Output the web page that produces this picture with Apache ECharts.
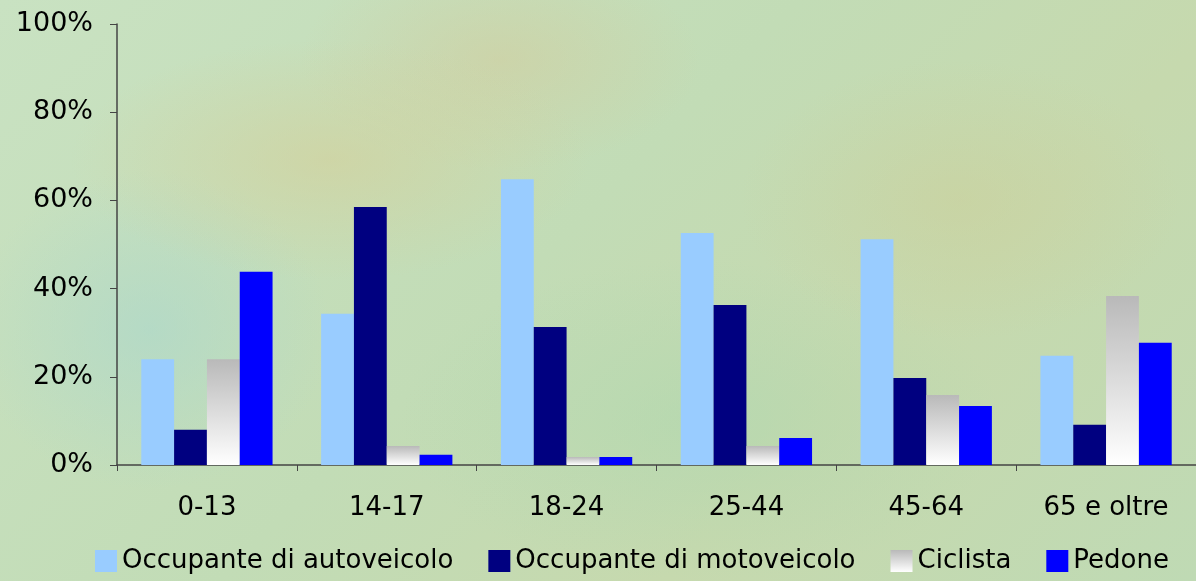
<!DOCTYPE html>
<html>
<head>
<meta charset="utf-8">
<script src="https://cdn.jsdelivr.net/npm/echarts@6/dist/echarts.min.js"></script>
<style>
  html, body { margin: 0; padding: 0; }
  body {
    width: 1196px; height: 581px; overflow: hidden;
    background:
      radial-gradient(ellipse 260px 120px at 330px 160px, rgba(214,206,150,0.55), rgba(214,206,150,0)),
      radial-gradient(ellipse 200px 110px at 500px 60px, rgba(214,200,150,0.45), rgba(214,200,150,0)),
      radial-gradient(ellipse 220px 140px at 960px 200px, rgba(205,205,150,0.45), rgba(205,205,150,0)),
      radial-gradient(ellipse 180px 160px at 150px 330px, rgba(170,215,205,0.6), rgba(170,215,205,0)),
      radial-gradient(ellipse 300px 160px at 700px 420px, rgba(170,215,175,0.5), rgba(170,215,175,0)),
      linear-gradient(135deg, #c9e2c2 0%, #c2dcb6 45%, #c6d9ae 70%, #bfdab4 100%);
  }
  #chart { width: 1196px; height: 581px; }
</style>
</head>
<body>
<div id="chart"></div>
<script>
var categories = ['0-13', '14-17', '18-24', '25-44', '45-64', '65 e oltre'];
var autoveicolo = [24.0, 34.3, 64.8, 52.6, 51.2, 24.8];
var motoveicolo = [8.0, 58.5, 31.3, 36.3, 19.7, 9.1];
var ciclista = [24.0, 4.3, 1.8, 4.3, 15.9, 38.3];
var pedone = [43.8, 2.3, 1.8, 6.1, 13.4, 27.7];
var yTicks = [0, 20, 40, 60, 80, 100];

var chart = echarts.init(document.getElementById('chart'), null, { renderer: 'canvas' });

var ciclistaFill = new echarts.graphic.LinearGradient(0, 0, 0, 1, [
  { offset: 0, color: '#b9b9b9' },
  { offset: 1, color: '#ffffff' }
]);

var font = '"DejaVu Sans", Verdana, sans-serif';

chart.setOption({
  backgroundColor: 'transparent',
  animation: false,
  textStyle: { fontFamily: font },
  grid: {
    left: 117,
    top: 24,
    width: 1086,
    height: 441
  },
  legend: {
    left: 90,
    bottom: 2,
    itemWidth: 22,
    itemHeight: 22,
    itemGap: 35,
    textStyle: { fontSize: 26, color: '#000', fontFamily: font },
    data: [
      { name: 'Occupante di autoveicolo', icon: 'rect' },
      { name: 'Occupante di motoveicolo', icon: 'rect' },
      { name: 'Ciclista', icon: 'rect' },
      { name: 'Pedone', icon: 'rect' }
    ]
  },
  xAxis: {
    type: 'category',
    data: categories,
    axisLine: { lineStyle: { color: '#444', width: 1.5 } },
    axisTick: { show: true, length: 6, lineStyle: { color: '#444' } },
    axisLabel: { color: '#000', fontSize: 26, margin: 30, fontFamily: font }
  },
  yAxis: {
    type: 'value',
    min: yTicks[0],
    max: yTicks[yTicks.length - 1],
    interval: 20,
    splitLine: { show: false },
    axisLine: { show: true, lineStyle: { color: '#444', width: 1.5 } },
    axisTick: { show: true, length: 7, lineStyle: { color: '#444' } },
    axisLabel: {
      color: '#000', fontSize: 27, margin: 24, fontFamily: font,
      formatter: function (v) { return v + '%'; }
    }
  },
  series: [
    {
      name: 'Occupante di autoveicolo', type: 'bar', data: autoveicolo,
      barGap: '0%', barCategoryGap: '27%',
      itemStyle: { color: '#99ccff' }
    },
    {
      name: 'Occupante di motoveicolo', type: 'bar', data: motoveicolo,
      itemStyle: { color: '#000080' }
    },
    {
      name: 'Ciclista', type: 'bar', data: ciclista,
      itemStyle: { color: ciclistaFill }
    },
    {
      name: 'Pedone', type: 'bar', data: pedone,
      itemStyle: { color: '#0000ff' }
    }
  ]
});
</script>
</body>
</html>
